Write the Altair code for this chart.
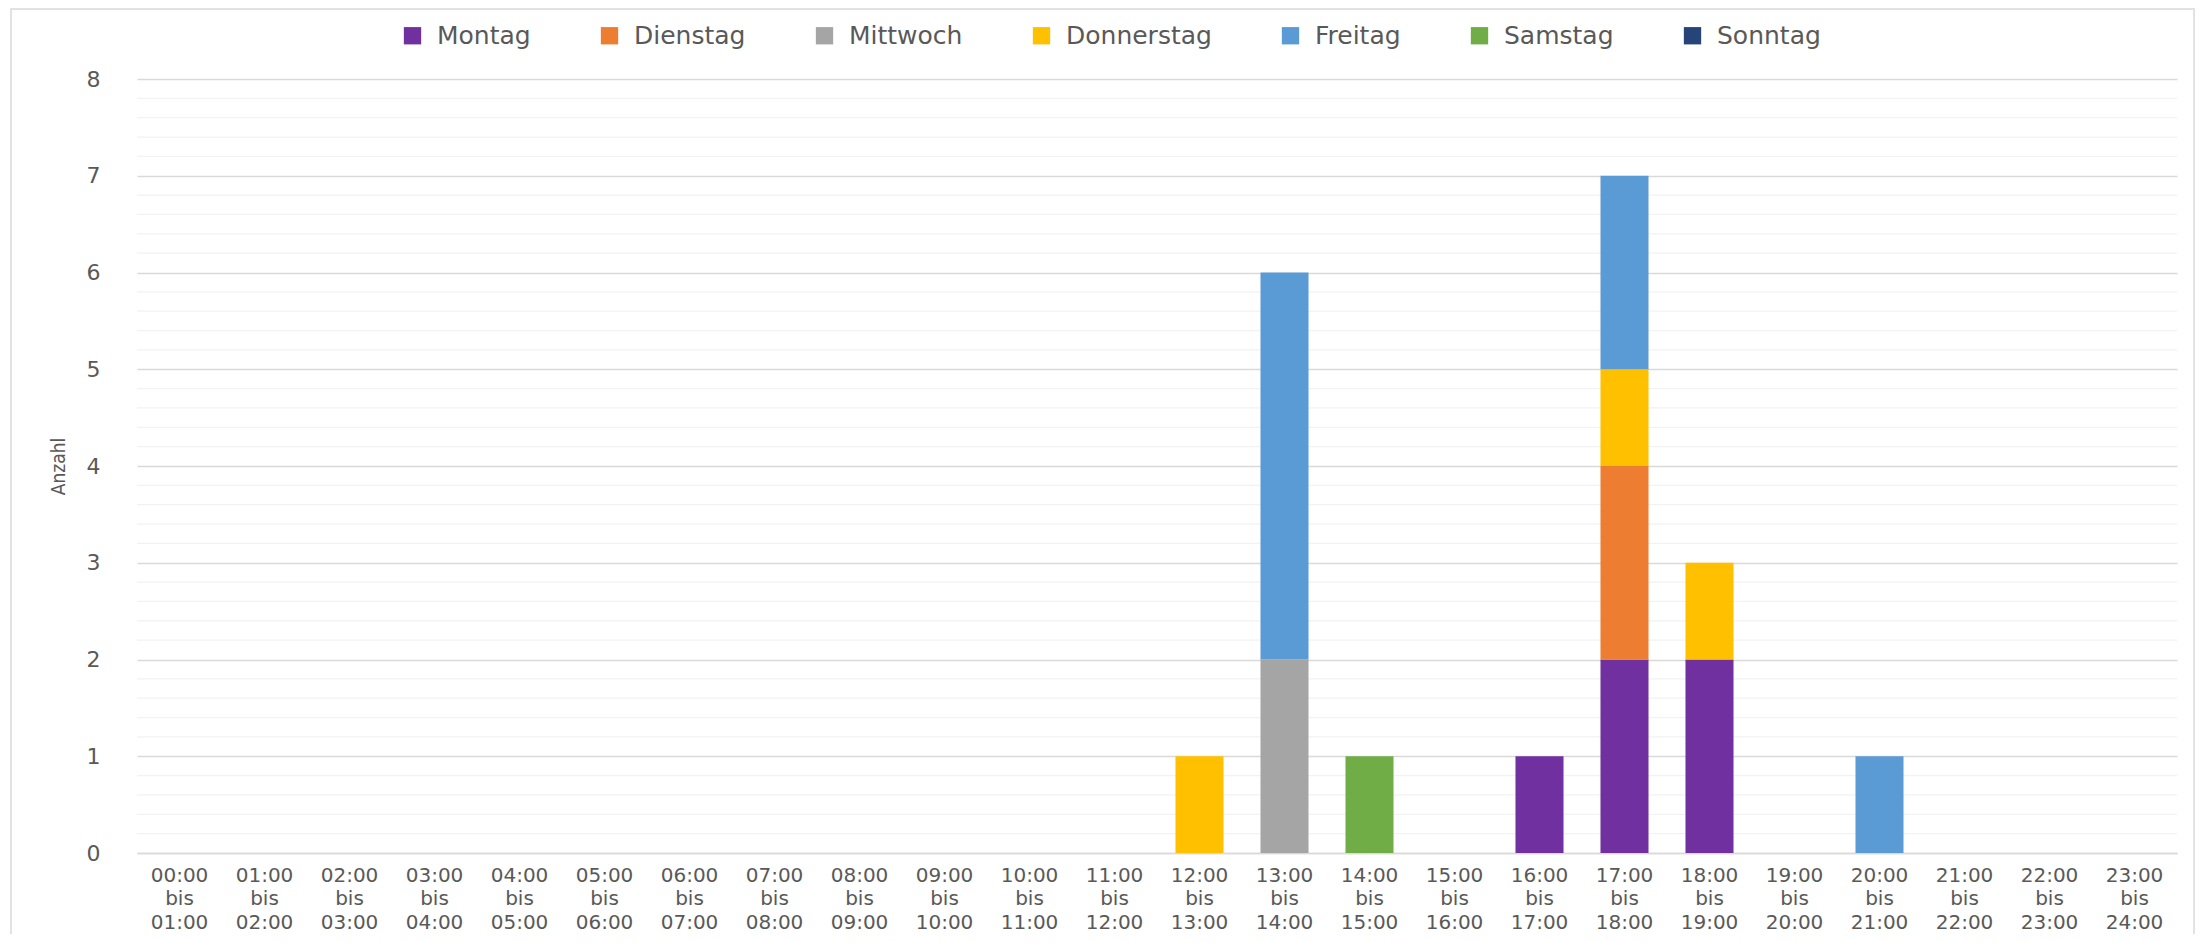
import altair as alt
import pandas as pd

slots = [
    "00:00 bis 01:00", "01:00 bis 02:00", "02:00 bis 03:00", "03:00 bis 04:00",
    "04:00 bis 05:00", "05:00 bis 06:00", "06:00 bis 07:00", "07:00 bis 08:00",
    "08:00 bis 09:00", "09:00 bis 10:00", "10:00 bis 11:00", "11:00 bis 12:00",
    "12:00 bis 13:00", "13:00 bis 14:00", "14:00 bis 15:00", "15:00 bis 16:00",
    "16:00 bis 17:00", "17:00 bis 18:00", "18:00 bis 19:00", "19:00 bis 20:00",
    "20:00 bis 21:00", "21:00 bis 22:00", "22:00 bis 23:00", "23:00 bis 24:00",
]

days = ["Montag", "Dienstag", "Mittwoch", "Donnerstag", "Freitag", "Samstag", "Sonntag"]
colors = ["#7030A0", "#ED7D31", "#A5A5A5", "#FFC000", "#5B9BD5", "#70AD47", "#264478"]

montag     = [0, 0, 0, 0, 0, 0, 0, 0, 0, 0, 0, 0, 0, 0, 0, 0, 1, 2, 2, 0, 0, 0, 0, 0]
dienstag   = [0, 0, 0, 0, 0, 0, 0, 0, 0, 0, 0, 0, 0, 0, 0, 0, 0, 2, 0, 0, 0, 0, 0, 0]
mittwoch   = [0, 0, 0, 0, 0, 0, 0, 0, 0, 0, 0, 0, 0, 2, 0, 0, 0, 0, 0, 0, 0, 0, 0, 0]
donnerstag = [0, 0, 0, 0, 0, 0, 0, 0, 0, 0, 0, 0, 1, 0, 0, 0, 0, 1, 1, 0, 0, 0, 0, 0]
freitag    = [0, 0, 0, 0, 0, 0, 0, 0, 0, 0, 0, 0, 0, 4, 0, 0, 0, 2, 0, 0, 1, 0, 0, 0]
samstag    = [0, 0, 0, 0, 0, 0, 0, 0, 0, 0, 0, 0, 0, 0, 1, 0, 0, 0, 0, 0, 0, 0, 0, 0]
sonntag    = [0, 0, 0, 0, 0, 0, 0, 0, 0, 0, 0, 0, 0, 0, 0, 0, 0, 0, 0, 0, 0, 0, 0, 0]

y_major = [0, 1, 2, 3, 4, 5, 6, 7, 8]
y_minor = [0.2, 0.4, 0.6, 0.8, 1.2, 1.4, 1.6, 1.8, 2.2, 2.4, 2.6, 2.8,
           3.2, 3.4, 3.6, 3.8, 4.2, 4.4, 4.6, 4.8, 5.2, 5.4, 5.6, 5.8,
           6.2, 6.4, 6.6, 6.8, 7.2, 7.4, 7.6, 7.8]

series = [montag, dienstag, mittwoch, donnerstag, freitag, samstag, sonntag]
rows = []
for di, (day, vals) in enumerate(zip(days, series)):
    for slot, v in zip(slots, vals):
        if v:
            rows.append({"Zeit": slot, "Tag": day, "Anzahl": v, "ord": di})
df = pd.DataFrame(rows)

FONT = "DejaVu Sans"
NARROW = "Liberation Sans Narrow, DejaVu Sans Condensed, sans-serif"
GRAY = "#595959"

yscale = alt.Scale(domain=[0, 8], nice=False, zero=True)
yaxis = alt.Axis(
    values=y_major, title="Anzahl", titleFont=NARROW, titleFontSize=19,
    titleFontWeight="normal", titleColor=GRAY, titleAngle=270,
    titleX=-79, titleY=387, titleAlign="center", titleBaseline="middle",
    labelFont=FONT, labelFontSize=22, labelColor=GRAY, labelPadding=37,
    ticks=False, tickSize=0, domain=False, gridColor="#d9d9d9", gridWidth=1.3,
)

minor = alt.Chart(pd.DataFrame({"Anzahl": y_minor})).mark_rule(
    color="#f2f2f2", strokeWidth=1.3
).encode(y=alt.Y("Anzahl:Q", scale=yscale, axis=yaxis))

bars = alt.Chart(df).mark_bar().encode(
    x=alt.X(
        "Zeit:N",
        scale=alt.Scale(domain=slots, paddingInner=0.435, paddingOuter=0.2175),
        axis=alt.Axis(
            title=None, labelAngle=0, labelExpr="split(datum.value, ' ')",
            labelFont=FONT, labelFontSize=20, labelLineHeight=23.5, labelColor=GRAY,
            labelPadding=12, ticks=False, tickSize=0, domainColor="#d9d9d9",
            domainWidth=1.5, grid=False, labelBaseline="top",
        ),
    ),
    y=alt.Y("Anzahl:Q", stack="zero", scale=yscale, axis=yaxis),
    color=alt.Color(
        "Tag:N",
        scale=alt.Scale(domain=days, range=colors),
        legend=alt.Legend(
            title=None, orient="none", direction="horizontal", legendX=263, legendY=-56,
            symbolType="square", symbolSize=300, symbolStrokeWidth=0,
            labelFont=FONT, labelFontSize=25, labelColor=GRAY, labelOffset=12,
            columnPadding=66, padding=0,
        ),
    ),
    order=alt.Order("ord:Q"),
)

border = alt.Chart(pd.DataFrame({"a": [0]})).mark_rect(
    fillOpacity=0, stroke="#d9d9d9", strokeWidth=1.5
).encode(
    x=alt.value(-126), x2=alt.value(2057), y=alt.value(-70), y2=alt.value(900)
)

chart = alt.layer(border, minor, bars).properties(
    width=2040, height=774,
    padding={"left": 129, "top": 71, "right": 18, "bottom": 81},
    autosize="none", background="white",
).configure_view(strokeWidth=0, stroke="transparent")

chart.save("out.html", embed_options={"renderer": "svg", "actions": False})
